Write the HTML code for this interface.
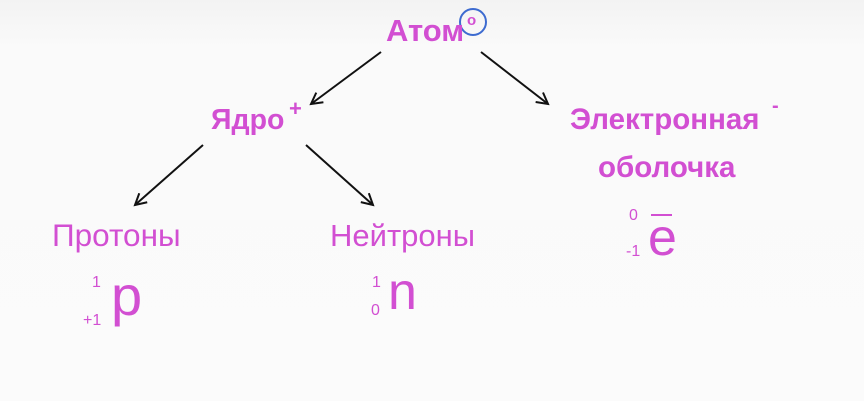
<!DOCTYPE html>
<html><head><meta charset="utf-8"><style>
body{margin:0;width:864px;height:401px;background:linear-gradient(#f3f3f3,#fafafa 12%,#fbfbfb);font-family:"Liberation Sans",sans-serif;color:#d24fd2;position:relative;overflow:hidden}
.t{position:absolute;white-space:nowrap;line-height:1}
.b{font-weight:bold}
</style></head><body>
<svg width="864" height="401" style="position:absolute;left:0;top:0">
<defs><marker id="a" markerWidth="14" markerHeight="14" refX="12" refY="7" orient="auto" markerUnits="userSpaceOnUse"><path d="M1,1 L12,7 L1,13" fill="none" stroke="#111" stroke-width="2"/></marker></defs>
<g stroke="#111" stroke-width="2" fill="none">
<line x1="381" y1="52" x2="311" y2="104" marker-end="url(#a)"/>
<line x1="481" y1="52" x2="548" y2="104" marker-end="url(#a)"/>
<line x1="203" y1="145" x2="135" y2="205" marker-end="url(#a)"/>
<line x1="306" y1="145" x2="373" y2="205" marker-end="url(#a)"/>
</g>
<ellipse cx="473" cy="22" rx="13" ry="13" fill="none" stroke="#3d6bd0" stroke-width="2"/>
<line x1="651" y1="215" x2="672" y2="215" stroke="#d24fd2" stroke-width="2"/>
</svg>
<div class="t b" style="left:386px;top:15px;font-size:31px">Атом</div>
<div class="t b" style="left:467px;top:13px;font-size:15px">o</div>
<div class="t b" style="left:211px;top:106px;font-size:28.5px">Ядро</div>
<div class="t b" style="left:289px;top:98px;font-size:22px">+</div>
<div class="t b" style="left:570px;top:105px;font-size:29.5px">Электронная</div>
<div class="t b" style="left:772px;top:96px;font-size:20px">-</div>
<div class="t b" style="left:598px;top:153px;font-size:29.5px">оболочка</div>
<div class="t" style="left:52px;top:220px;font-size:31.5px">Протоны</div>
<div class="t" style="left:330px;top:220px;font-size:31px">Нейтроны</div>
<div class="t" style="left:92px;top:275px;font-size:16px">1</div>
<div class="t" style="left:83px;top:313px;font-size:16px">+1</div>
<div class="t" style="left:111px;top:268px;font-size:56px">p</div>
<div class="t" style="left:372px;top:275px;font-size:16px">1</div>
<div class="t" style="left:371px;top:303px;font-size:16px">0</div>
<div class="t" style="left:388px;top:266px;font-size:52px">n</div>
<div class="t" style="left:629px;top:208px;font-size:16px">0</div>
<div class="t" style="left:626px;top:244px;font-size:16px">-1</div>
<div class="t" style="left:648px;top:212px;font-size:52px">e</div>
</body></html>
